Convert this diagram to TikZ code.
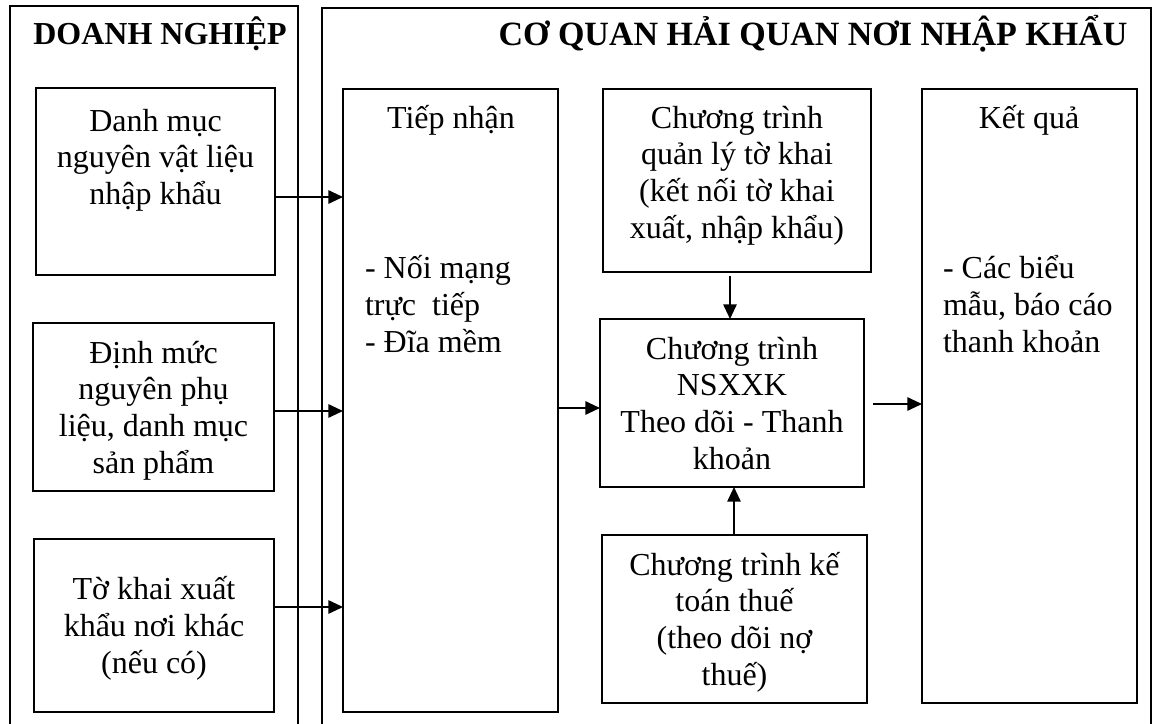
\documentclass[tikz,border=0pt]{standalone}
\usepackage{fontspec}
\setmainfont{Liberation Serif}
\usetikzlibrary{arrows.meta,fit}
\begin{document}
\begin{tikzpicture}[x=0.75pt,y=-0.75pt,
  every node/.style={font=\fontsize{24}{27.6}\selectfont, inner sep=0pt, outer sep=0pt},
  frame/.style={line width=1.4pt},
  bx/.style={draw, line width=1.4pt, rectangle, inner sep=0pt},
  arr/.style={line width=1.4pt, -{Triangle[length=11pt,width=10pt]}},
  ttl/.style={font=\fontsize{24}{27.6}\selectfont\bfseries, anchor=base},
  txt/.style={align=center, anchor=base},
  ltxt/.style={align=left, anchor=base west},
]
\useasboundingbox (0,0) rectangle (1160,724);

% outer frames
\draw[frame] (10,724) -- (10,6) -- (298,6) -- (298,724);
\draw[frame] (322,724) -- (322,8) -- (1151,8) -- (1151,724);

% titles
\node[ttl] (t1) at (160,45) {DOANH NGHIỆP};
\node[ttl, font=\fontsize{25.5}{29}\selectfont\bfseries] (t2) at (813,46) {CƠ QUAN HẢI QUAN NƠI NHẬP KHẨU};

% left column boxes (text nodes anchored at the baseline of their last line)
\node[bx, fit={(36,88) (275,275)}] (dm1) {};
\node[txt] (dm1t) at (155.5,204.6) {Danh mục\\nguyên vật liệu\\nhập khẩu};

\node[bx, fit={(33,323) (274,491)}] (dm2) {};
\node[txt] (dm2t) at (153.5,473.4) {Định mức\\nguyên phụ\\liệu, danh mục\\sản phẩm};

\node[bx, fit={(34,539) (274,712)}] (dm3) {};
\node[txt] (dm3t) at (154,673) {Tờ khai xuất\\khẩu nơi khác\\(nếu có)};

% Tiep nhan
\node[bx, fit={(343,89) (558,712)}] (tn) {};
\node[txt] (tnt) at (451,128) {Tiếp nhận};
\node[ltxt] (tnl) at (365,352) {- Nối mạng\\trực\ \ tiếp\\- Đĩa mềm};

% middle column
\node[bx, fit={(603,89) (871,272)}] (ql) {};
\node[txt] (qlt) at (737,238.4) {Chương trình\\quản lý tờ khai\\(kết nối tờ khai\\xuất, nhập khẩu)};

\node[bx, fit={(600,319) (864,487)}] (ns) {};
\node[txt] (nst) at (732,469.4) {Chương trình\\NSXXK\\Theo dõi - Thanh\\khoản};

\node[bx, fit={(602,535) (867,703)}] (kt) {};
\node[txt] (ktt) at (734.5,685.4) {Chương trình kế\\toán thuế\\(theo dõi nợ\\thuế)};

% Ket qua
\node[bx, fit={(922,89) (1137,703)}] (kq) {};
\node[txt] (kqt) at (1029,128) {Kết quả};
\node[ltxt] (kql) at (943,352) {- Các biểu\\mẫu, báo cáo\\thanh khoản};

% arrows
\coordinate (y1) at (0,197);
\coordinate (y2) at (0,411);
\coordinate (y3) at (0,607);
\coordinate (y4) at (0,408);
\coordinate (y5) at (0,404);
\coordinate (x1) at (730,0);
\coordinate (x2) at (734,0);
\draw[arr] (dm1.east |- y1) -- (tn.west |- y1);
\draw[arr] (dm2.east |- y2) -- (tn.west |- y2);
\draw[arr] (dm3.east |- y3) -- (tn.west |- y3);
\draw[arr] (tn.east |- y4) -- (ns.west |- y4);
\draw[arr, shorten <=6.5pt] (ns.east |- y5) -- (kq.west |- y5);
\draw[arr, shorten <=3pt] (x1 |- ql.south) -- (x1 |- ns.north);
\draw[arr] (x2 |- kt.north) -- (x2 |- ns.south);
\end{tikzpicture}
\end{document}
